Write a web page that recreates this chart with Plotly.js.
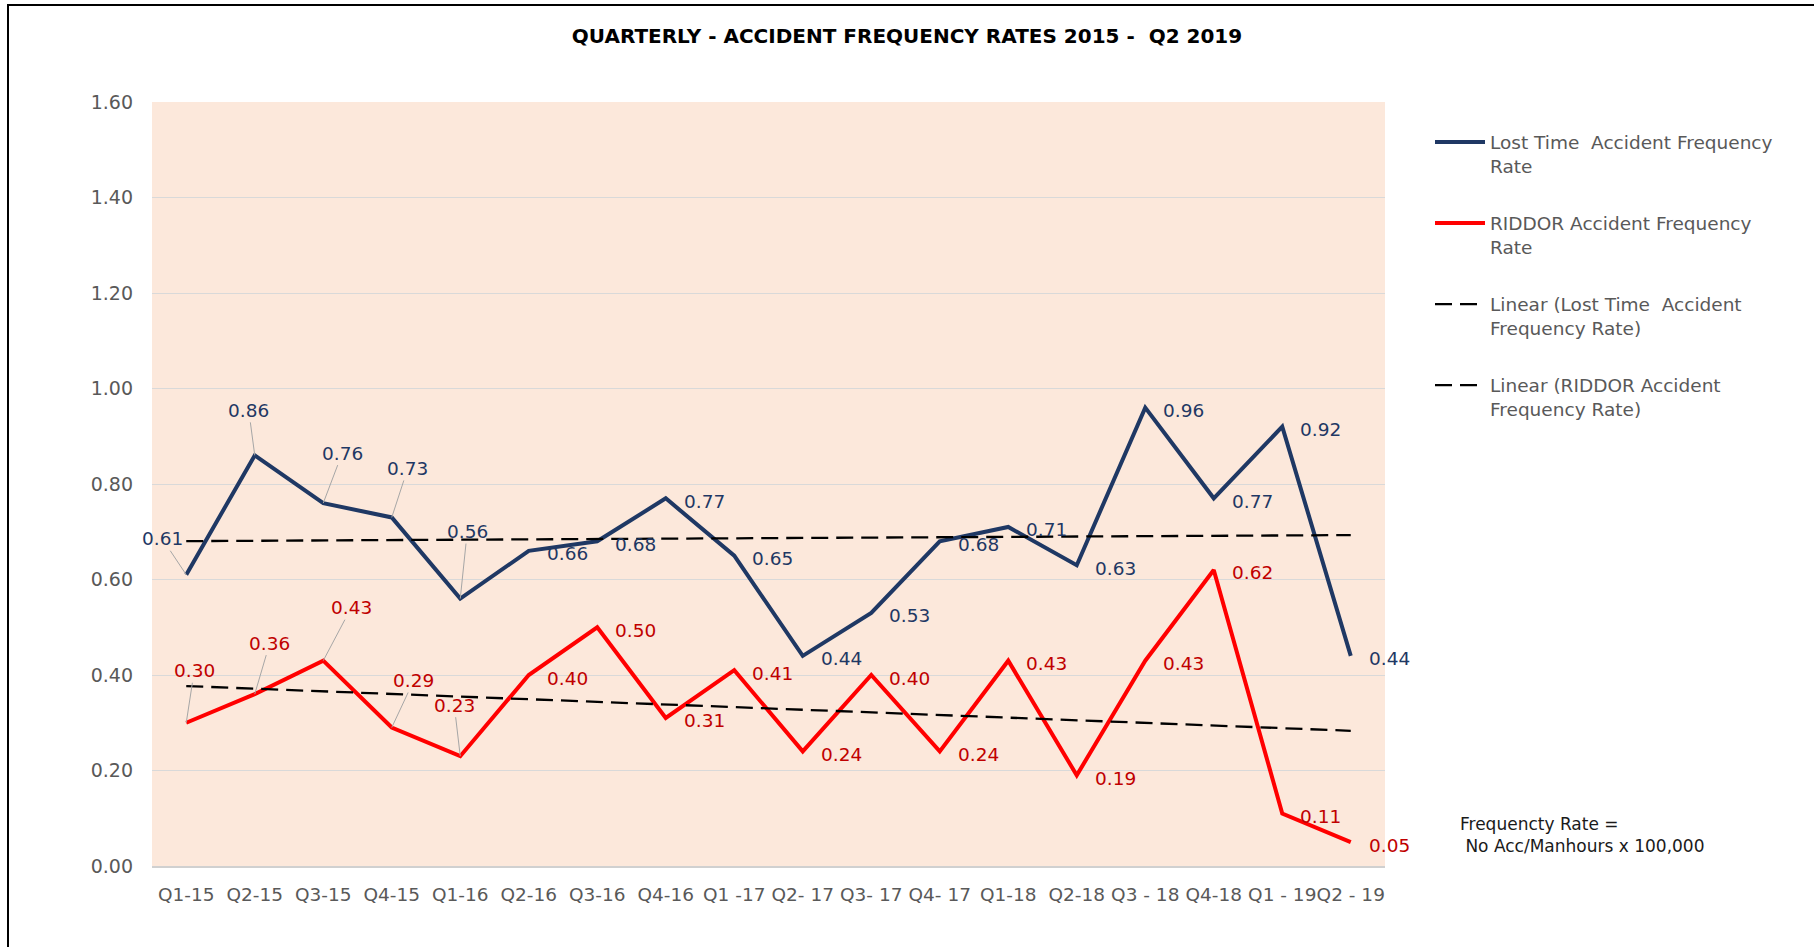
<!DOCTYPE html>
<html>
<head>
<meta charset="utf-8">
<script src="https://cdn.plot.ly/plotly-3.0.1.min.js"></script>
<style>
  html, body { margin: 0; padding: 0; background: #ffffff; overflow: hidden; }
  #chart { width: 1814px; height: 947px; }
  #frame { position: absolute; left: 7px; top: 4px; width: 1900px; height: 1000px;
           border-left: 2px solid #000; border-top: 2px solid #000; pointer-events: none; }
</style>
</head>
<body>
<div id="chart"></div>
<div id="frame"></div>
<script>
// ---- data ----
const categories = ['Q1-15','Q2-15','Q3-15','Q4-15','Q1-16','Q2-16','Q3-16','Q4-16','Q1 -17','Q2- 17','Q3- 17','Q4- 17','Q1-18','Q2-18','Q3 - 18','Q4-18','Q1 - 19','Q2 - 19'];
const lostTime = [0.61, 0.86, 0.76, 0.73, 0.56, 0.66, 0.68, 0.77, 0.65, 0.44, 0.53, 0.68, 0.71, 0.63, 0.96, 0.77, 0.92, 0.44];
const riddor   = [0.30, 0.36, 0.43, 0.29, 0.23, 0.40, 0.50, 0.31, 0.41, 0.24, 0.40, 0.24, 0.43, 0.19, 0.43, 0.62, 0.11, 0.05];
const seriesNames = [
  'Lost Time\u00a0\u00a0Accident Frequency<br>Rate',
  'RIDDOR Accident Frequency<br>Rate',
  'Linear (Lost Time\u00a0\u00a0Accident<br>Frequency Rate)',
  'Linear (RIDDOR Accident<br>Frequency Rate)'
];
const chartTitle = 'QUARTERLY - ACCIDENT FREQUENCY RATES 2015 -\u00a0\u00a0Q2 2019';
const noteText = 'Frequencty Rate =<br>\u00a0No Acc/Manhours x 100,000';

// ---- label placement (styling): leader-line labels [dx, dy] by point index ----
const ltLeader = {0: [-24, -36], 1: [-6, -45], 2: [19, -50], 3: [16, -49], 4: [7, -67]};
const rdLeader = {0: [8, -52], 1: [15, -51], 2: [28, -53], 3: [22, -47], 4: [-6, -51]};

// least squares trendline (as Excel's linear trendline)
function linearFit(ys) {
  const n = ys.length;
  let sx = 0, sy = 0, sxx = 0, sxy = 0;
  ys.forEach((y, i) => { sx += i; sy += y; sxx += i * i; sxy += i * y; });
  const b = (n * sxy - sx * sy) / (n * sxx - sx * sx);
  const a = (sy - b * sx) / n;
  return ys.map((_, i) => a + b * i);
}

const NAVY = '#1f3864', RED = '#ff0000', RED_TXT = '#c00000';
const FONT = 'DejaVu Sans, Verdana, sans-serif';

const traces = [
  {x: categories, y: lostTime, type: 'scatter', mode: 'lines', name: seriesNames[0], legendgroup: 'a',
   line: {color: NAVY, width: 4}},
  {x: categories, y: riddor, type: 'scatter', mode: 'lines', name: seriesNames[1], legendgroup: 'b',
   line: {color: RED, width: 4}},
  {x: categories, y: linearFit(lostTime), type: 'scatter', mode: 'lines', name: seriesNames[2], legendgroup: 'c',
   line: {color: '#000000', width: 2.3, dash: '17px,8px'}},
  {x: categories, y: linearFit(riddor), type: 'scatter', mode: 'lines', name: seriesNames[3], legendgroup: 'd',
   line: {color: '#000000', width: 2.3, dash: '17px,8px'}}
];

function labels(values, color, leader) {
  return values.map((v, i) => {
    const base = {x: categories[i], y: v, xref: 'x', yref: 'y', text: v.toFixed(2),
                  font: {family: FONT, size: 18.5, color: color}};
    if (leader[i]) {
      return Object.assign(base, {showarrow: true, arrowhead: 0, arrowwidth: 1, arrowcolor: '#a6a6a6',
                                  ax: leader[i][0], ay: leader[i][1], standoff: 0, borderpad: 1});
    }
    return Object.assign(base, {showarrow: false, xanchor: 'left', yanchor: 'middle', xshift: 16, yshift: -3});
  });
}

const annotations = [].concat(
  labels(lostTime, NAVY, ltLeader),
  labels(riddor, RED_TXT, rdLeader),
  [{xref: 'paper', yref: 'paper', x: 1.059, y: 0.041, xanchor: 'left', yanchor: 'middle', align: 'left',
    showarrow: false, text: noteText, font: {family: FONT, size: 17, color: '#1a1a1a'}}]
);

const layout = {
  width: 1814, height: 947,
  margin: {l: 152, r: 429, t: 102, b: 81},
  paper_bgcolor: '#ffffff',
  plot_bgcolor: '#fce8db',
  font: {family: FONT, color: '#595959'},
  title: {text: chartTitle, x: 0.5, xref: 'container', y: 0.962, yanchor: 'middle',
          font: {family: FONT, size: 20, color: '#000000', weight: 'bold'}},
  xaxis: {type: 'category', range: [-0.5, 17.5], showgrid: false, zeroline: false,
          showline: true, linecolor: '#d0d0d0', linewidth: 2, ticks: '', tickangle: 0,
          ticklabelstandoff: 11, tickfont: {family: FONT, size: 18.5, color: '#595959'}},
  yaxis: {range: [0, 1.6], dtick: 0.2, tick0: 0, tickformat: '.2f', showgrid: true, gridcolor: '#d9d9d9',
          gridwidth: 1, zeroline: false, showline: false, ticks: '', ticklabelstandoff: 18,
          tickfont: {family: FONT, size: 19, color: '#595959'}},
  showlegend: true,
  legend: {x: 1.0365, xanchor: 'left', y: 0.972, yanchor: 'top', valign: 'top', tracegroupgap: 30,
           bgcolor: 'rgba(0,0,0,0)', font: {family: FONT, size: 18.5, color: '#595959'}, itemwidth: 50},
  annotations: annotations
};

Plotly.newPlot('chart', traces, layout, {displayModeBar: false, staticPlot: true});
</script>
</body>
</html>
